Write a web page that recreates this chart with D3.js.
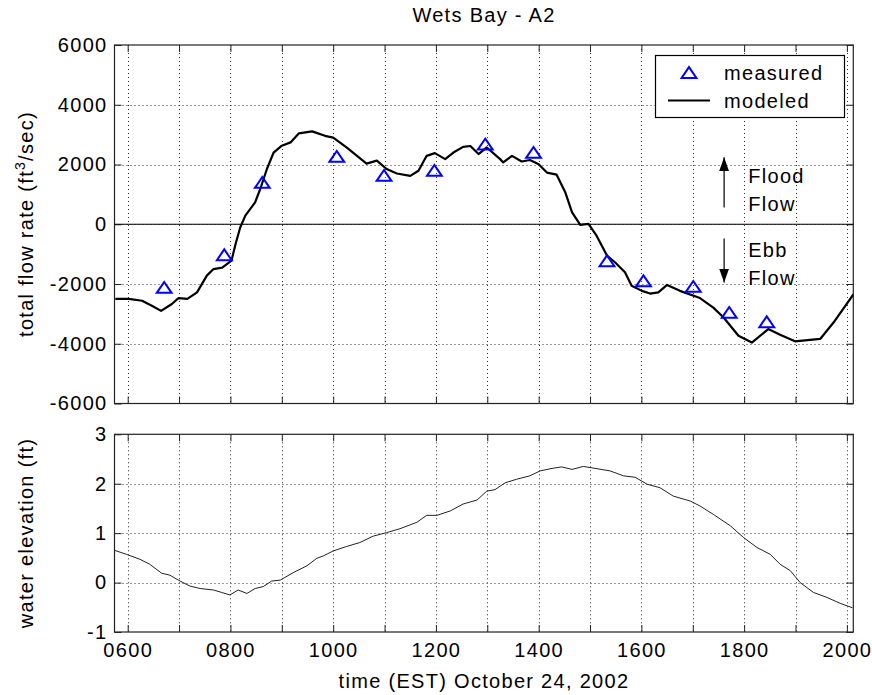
<!DOCTYPE html>
<html>
<head>
<meta charset="utf-8">
<script src="https://cdn.jsdelivr.net/npm/d3@7"></script>
<style>
  body { margin: 0; background: #fff; }
  svg { display: block; font-family: "Liberation Sans", Arial, Helvetica, sans-serif; }
</style>
</head>
<body>
<div id="chart"></div>
<script>
// Wets Bay station A2, 24 Oct 2002 -- times are decimal hours EST

var measuredTime = [6.71, 7.88, 8.62, 10.07, 10.99, 11.97, 12.96, 13.90, 15.33, 16.04, 17.01, 17.71, 18.44]
var measuredFlow = [-2115, -1021, 1399, 2270, 1634, 1801, 2684, 2404, -1222, -1891, -2082, -2952, -3264]

var modeledTime = [5.76, 6.02, 6.28, 6.47, 6.65, 6.86, 6.99, 7.16, 7.35, 7.54,
  7.67, 7.84, 8.02, 8.10, 8.19, 8.29, 8.48, 8.58, 8.71, 8.84,
  9.00, 9.17, 9.33, 9.59, 9.84, 10.00, 10.26, 10.65, 10.85, 11.04,
  11.24, 11.50, 11.66, 11.82, 11.98, 12.18, 12.34, 12.53, 12.67, 12.83,
  12.99, 13.25, 13.31, 13.48, 13.67, 13.83, 14.00, 14.16, 14.35, 14.52,
  14.65, 14.81, 14.97, 15.13, 15.33, 15.49, 15.68, 15.81, 16.01, 16.17,
  16.33, 16.50, 16.75, 17.14, 17.40, 17.60, 17.89, 18.15, 18.47, 18.70,
  18.99, 19.48, 19.74, 20.13]
var modeledFlow = [-2500, -2500, -2560, -2730, -2900, -2670, -2470, -2500, -2280, -1720,
  -1500, -1450, -1220, -660, -110, 290, 730, 1180, 1850, 2400,
  2630, 2740, 3040, 3110, 2960, 2900, 2570, 2030, 2130, 1850,
  1700, 1620, 1790, 2290, 2380, 2180, 2400, 2590, 2620, 2350,
  2570, 2180, 2070, 2290, 2100, 2150, 2010, 1730, 1660, 1060,
  400, -20, 10, -390, -1050, -1280, -1610, -2060, -2230, -2320,
  -2280, -2030, -2230, -2470, -2790, -3120, -3730, -3960, -3510, -3700,
  -3920, -3840, -3290, -2340]

var elevTime = [5.75, 5.98, 6.24, 6.43, 6.66, 6.82, 7.02, 7.21, 7.41, 7.67,
  7.83, 7.99, 8.15, 8.32, 8.48, 8.64, 8.80, 8.97, 9.22, 9.49,
  9.68, 9.81, 10.00, 10.26, 10.52, 10.78, 11.04, 11.30, 11.63, 11.82,
  12.02, 12.28, 12.53, 12.80, 12.99, 13.15, 13.35, 13.57, 13.83, 14.03,
  14.26, 14.45, 14.65, 14.87, 15.10, 15.39, 15.65, 15.88, 16.11, 16.36,
  16.62, 16.95, 17.14, 17.40, 17.73, 17.99, 18.25, 18.51, 18.70, 18.90,
  19.09, 19.35, 19.61, 19.87, 20.11]
var elevation = [0.65, 0.57, 0.47, 0.37, 0.19, 0.15, 0.03, -0.07, -0.12, -0.15,
  -0.20, -0.25, -0.15, -0.22, -0.12, -0.08, 0.03, 0.05, 0.20, 0.34,
  0.49, 0.54, 0.64, 0.73, 0.81, 0.94, 1.01, 1.09, 1.22, 1.36,
  1.36, 1.45, 1.59, 1.67, 1.85, 1.88, 2.02, 2.09, 2.16, 2.26,
  2.31, 2.34, 2.29, 2.35, 2.31, 2.26, 2.16, 2.13, 1.99, 1.92,
  1.75, 1.65, 1.55, 1.38, 1.15, 0.91, 0.71, 0.57, 0.37, 0.24,
  0.00, -0.20, -0.30, -0.42, -0.51]

var hourTicks = d3.range(6, 21)
var flowTicks = [-6000, -4000, -2000, 0, 2000, 4000, 6000]
var elevTicks = [-1, 0, 1, 2, 3]
var legendLabels = ["measured", "modeled"]

var width = 872
var height = 695
var left = 114.5, right = 853.3

var svg = d3.select('#chart').append('svg')
  .attr('width', width)
  .attr('height', height)

var x = d3.scaleLinear().domain([5.743, 20.125]).range([left, right])
var yFlow = d3.scaleLinear().domain([-6000, 6000]).range([403.5, 45])
var yElev = d3.scaleLinear().domain([-1, 3]).range([632, 434.3])

var hourLabel = d => d % 2 === 0 ? d3.format("02d")(d) + "00" : ""

// strip the axis' own font attributes so the page font applies
function plainAxis(g) {
  g.attr("font-size", null).attr("font-family", null)
  g.select(".domain").remove()
  g.selectAll(".tick line").attr("stroke", "#222")
  g.selectAll(".tick text").attr("fill", "#000")
}

// draws grid, frame and inward ticks for one panel
function panel(y, ticks, withHourLabels) {
  var top = y.range()[1], bottom = y.range()[0]
  var g = svg.append("g")

  g.append("g")
    .attr("stroke", "#333")
    .attr("stroke-dasharray", "1,3")
    .call(g => g.selectAll(".vx")
      .data(hourTicks)
      .join("line")
        .attr("x1", d => Math.round(x(d)) + 0.5)
        .attr("x2", d => Math.round(x(d)) + 0.5)
        .attr("y1", top)
        .attr("y2", bottom))
    .call(g => g.selectAll(".hy")
      .data(ticks.slice(1, -1))
      .join("line")
        .attr("y1", d => Math.round(y(d)) + 0.5)
        .attr("y2", d => Math.round(y(d)) + 0.5)
        .attr("x1", left)
        .attr("x2", right))

  var axes = g.append("g").style("font-size", "20px").style("letter-spacing", "1.3px")

  axes.append("g")
    .attr("transform", `translate(0,${bottom})`)
    .call(d3.axisBottom(x).tickValues(hourTicks).tickSize(-7).tickPadding(11)
      .tickFormat(withHourLabels ? hourLabel : ""))
    .call(plainAxis)
  axes.append("g")
    .attr("transform", `translate(0,${top})`)
    .call(d3.axisTop(x).tickValues(hourTicks).tickSize(-7).tickFormat(""))
    .call(plainAxis)
  axes.append("g")
    .attr("transform", `translate(${left},0)`)
    .call(d3.axisLeft(y).tickValues(ticks).tickSize(-7).tickPadding(7).tickFormat(d => String(d)))
    .call(plainAxis)
  axes.append("g")
    .attr("transform", `translate(${right},0)`)
    .call(d3.axisRight(y).tickValues(ticks).tickSize(-7).tickFormat(""))
    .call(plainAxis)

  g.append("rect")
    .attr("x", left)
    .attr("y", top)
    .attr("width", right - left)
    .attr("height", bottom - top)
    .attr("fill", "none")
    .attr("stroke", "#222")
    .attr("stroke-width", 1.2)
  return g
}

//#region flow panel
var flowPanel = panel(yFlow, flowTicks, false)

flowPanel.append("line")
  .attr("x1", left).attr("x2", right)
  .attr("y1", yFlow(0)).attr("y2", yFlow(0))
  .attr("stroke", "#000")
  .attr("stroke-width", 1.2)

svg.append("clipPath").attr("id", "flowClip")
  .append("rect").attr("x", left).attr("y", 45).attr("width", right - left).attr("height", 358.5)

svg.append("path")
  .datum(d3.zip(modeledTime, modeledFlow))
  .attr("clip-path", "url(#flowClip)")
  .attr("fill", "none")
  .attr("stroke", "#000")
  .attr("stroke-width", 2.2)
  .attr("stroke-linejoin", "round")
  .attr("d", d3.line().x(d => x(d[0])).y(d => yFlow(d[1])))

var triangle = "M0,-5.4L7.4,5.4L-7.4,5.4Z"

svg.append("g")
  .selectAll("path")
  .data(d3.zip(measuredTime, measuredFlow))
  .join("path")
    .attr("d", triangle)
    .attr("transform", d => `translate(${x(d[0])},${yFlow(d[1])})`)
    .attr("fill", "none")
    .attr("stroke", "#0000ff")
    .attr("stroke-width", 2)

// flood / ebb direction arrows
var arrowTime = 17.61
var labelTime = 18.08
svg.append("defs").append("marker")
  .attr("id", "head")
  .attr("viewBox", "0 0 14 10")
  .attr("refX", 14).attr("refY", 5)
  .attr("markerWidth", 14).attr("markerHeight", 10)
  .attr("markerUnits", "userSpaceOnUse")
  .attr("orient", "auto")
  .append("path").attr("d", "M0,0L14,5L0,10Z").attr("fill", "#000")

var arrows = svg.append("g").attr("stroke", "#000").attr("stroke-width", 1.2)
arrows.append("line")
  .attr("x1", x(arrowTime)).attr("x2", x(arrowTime))
  .attr("y1", yFlow(560)).attr("y2", yFlow(2240))
  .attr("marker-end", "url(#head)")
arrows.append("line")
  .attr("x1", x(arrowTime)).attr("x2", x(arrowTime))
  .attr("y1", yFlow(-480)).attr("y2", yFlow(-1950))
  .attr("marker-end", "url(#head)")

svg.append("g")
  .style("font-size", "20px").style("letter-spacing", "1.3px")
  .selectAll("text")
  .data([["Flood", 1366], ["Flow", 452], ["Ebb", -1111], ["Flow", -2025]])
  .join("text")
    .attr("x", x(labelTime))
    .attr("y", d => yFlow(d[1]))
    .text(d => d[0])

// legend
var legend = svg.append("g")
legend.append("rect")
  .attr("x", 655.5).attr("y", 55.5).attr("width", 189).attr("height", 62)
  .attr("fill", "#fff").attr("stroke", "#000").attr("stroke-width", 1.2)
legend.append("path")
  .attr("d", triangle)
  .attr("transform", "translate(689,72.5)")
  .attr("fill", "none").attr("stroke", "#0000ff").attr("stroke-width", 2)
legend.append("line")
  .attr("x1", 668).attr("x2", 710).attr("y1", 100.5).attr("y2", 100.5)
  .attr("stroke", "#000").attr("stroke-width", 2.2)
legend.selectAll("text")
  .data(legendLabels)
  .join("text")
    .attr("x", 724)
    .attr("y", (d, i) => 80 + i * 28)
    .style("font-size", "20px").style("letter-spacing", "1.3px")
    .text(d => d)
//#endregion

//#region elevation panel
panel(yElev, elevTicks, true)

svg.append("path")
  .datum(d3.zip(elevTime, elevation))
  .attr("fill", "none")
  .attr("stroke", "#222")
  .attr("stroke-width", 1)
  .attr("d", d3.line().x(d => x(d[0])).y(d => yElev(d[1])))
//#endregion

// titles
var labels = svg.append("g").style("font-size", "20px").style("letter-spacing", "1.3px")
labels.append("text")
  .attr("x", 484).attr("y", 22)
  .attr("text-anchor", "middle")
  .text("Wets Bay - A2")
labels.append("text")
  .attr("x", 484).attr("y", 688)
  .attr("text-anchor", "middle")
  .text("time (EST) October 24, 2002")

var flowLabel = labels.append("text")
  .attr("transform", "translate(33,224) rotate(-90)")
  .attr("text-anchor", "middle")
flowLabel.append("tspan").text("total flow rate (ft")
flowLabel.append("tspan").attr("baseline-shift", "super").style("font-size", "14px").text("3")
flowLabel.append("tspan").text("/sec)")

labels.append("text")
  .attr("transform", "translate(33,533) rotate(-90)")
  .attr("text-anchor", "middle")
  .text("water elevation (ft)")
</script>
</body>
</html>
